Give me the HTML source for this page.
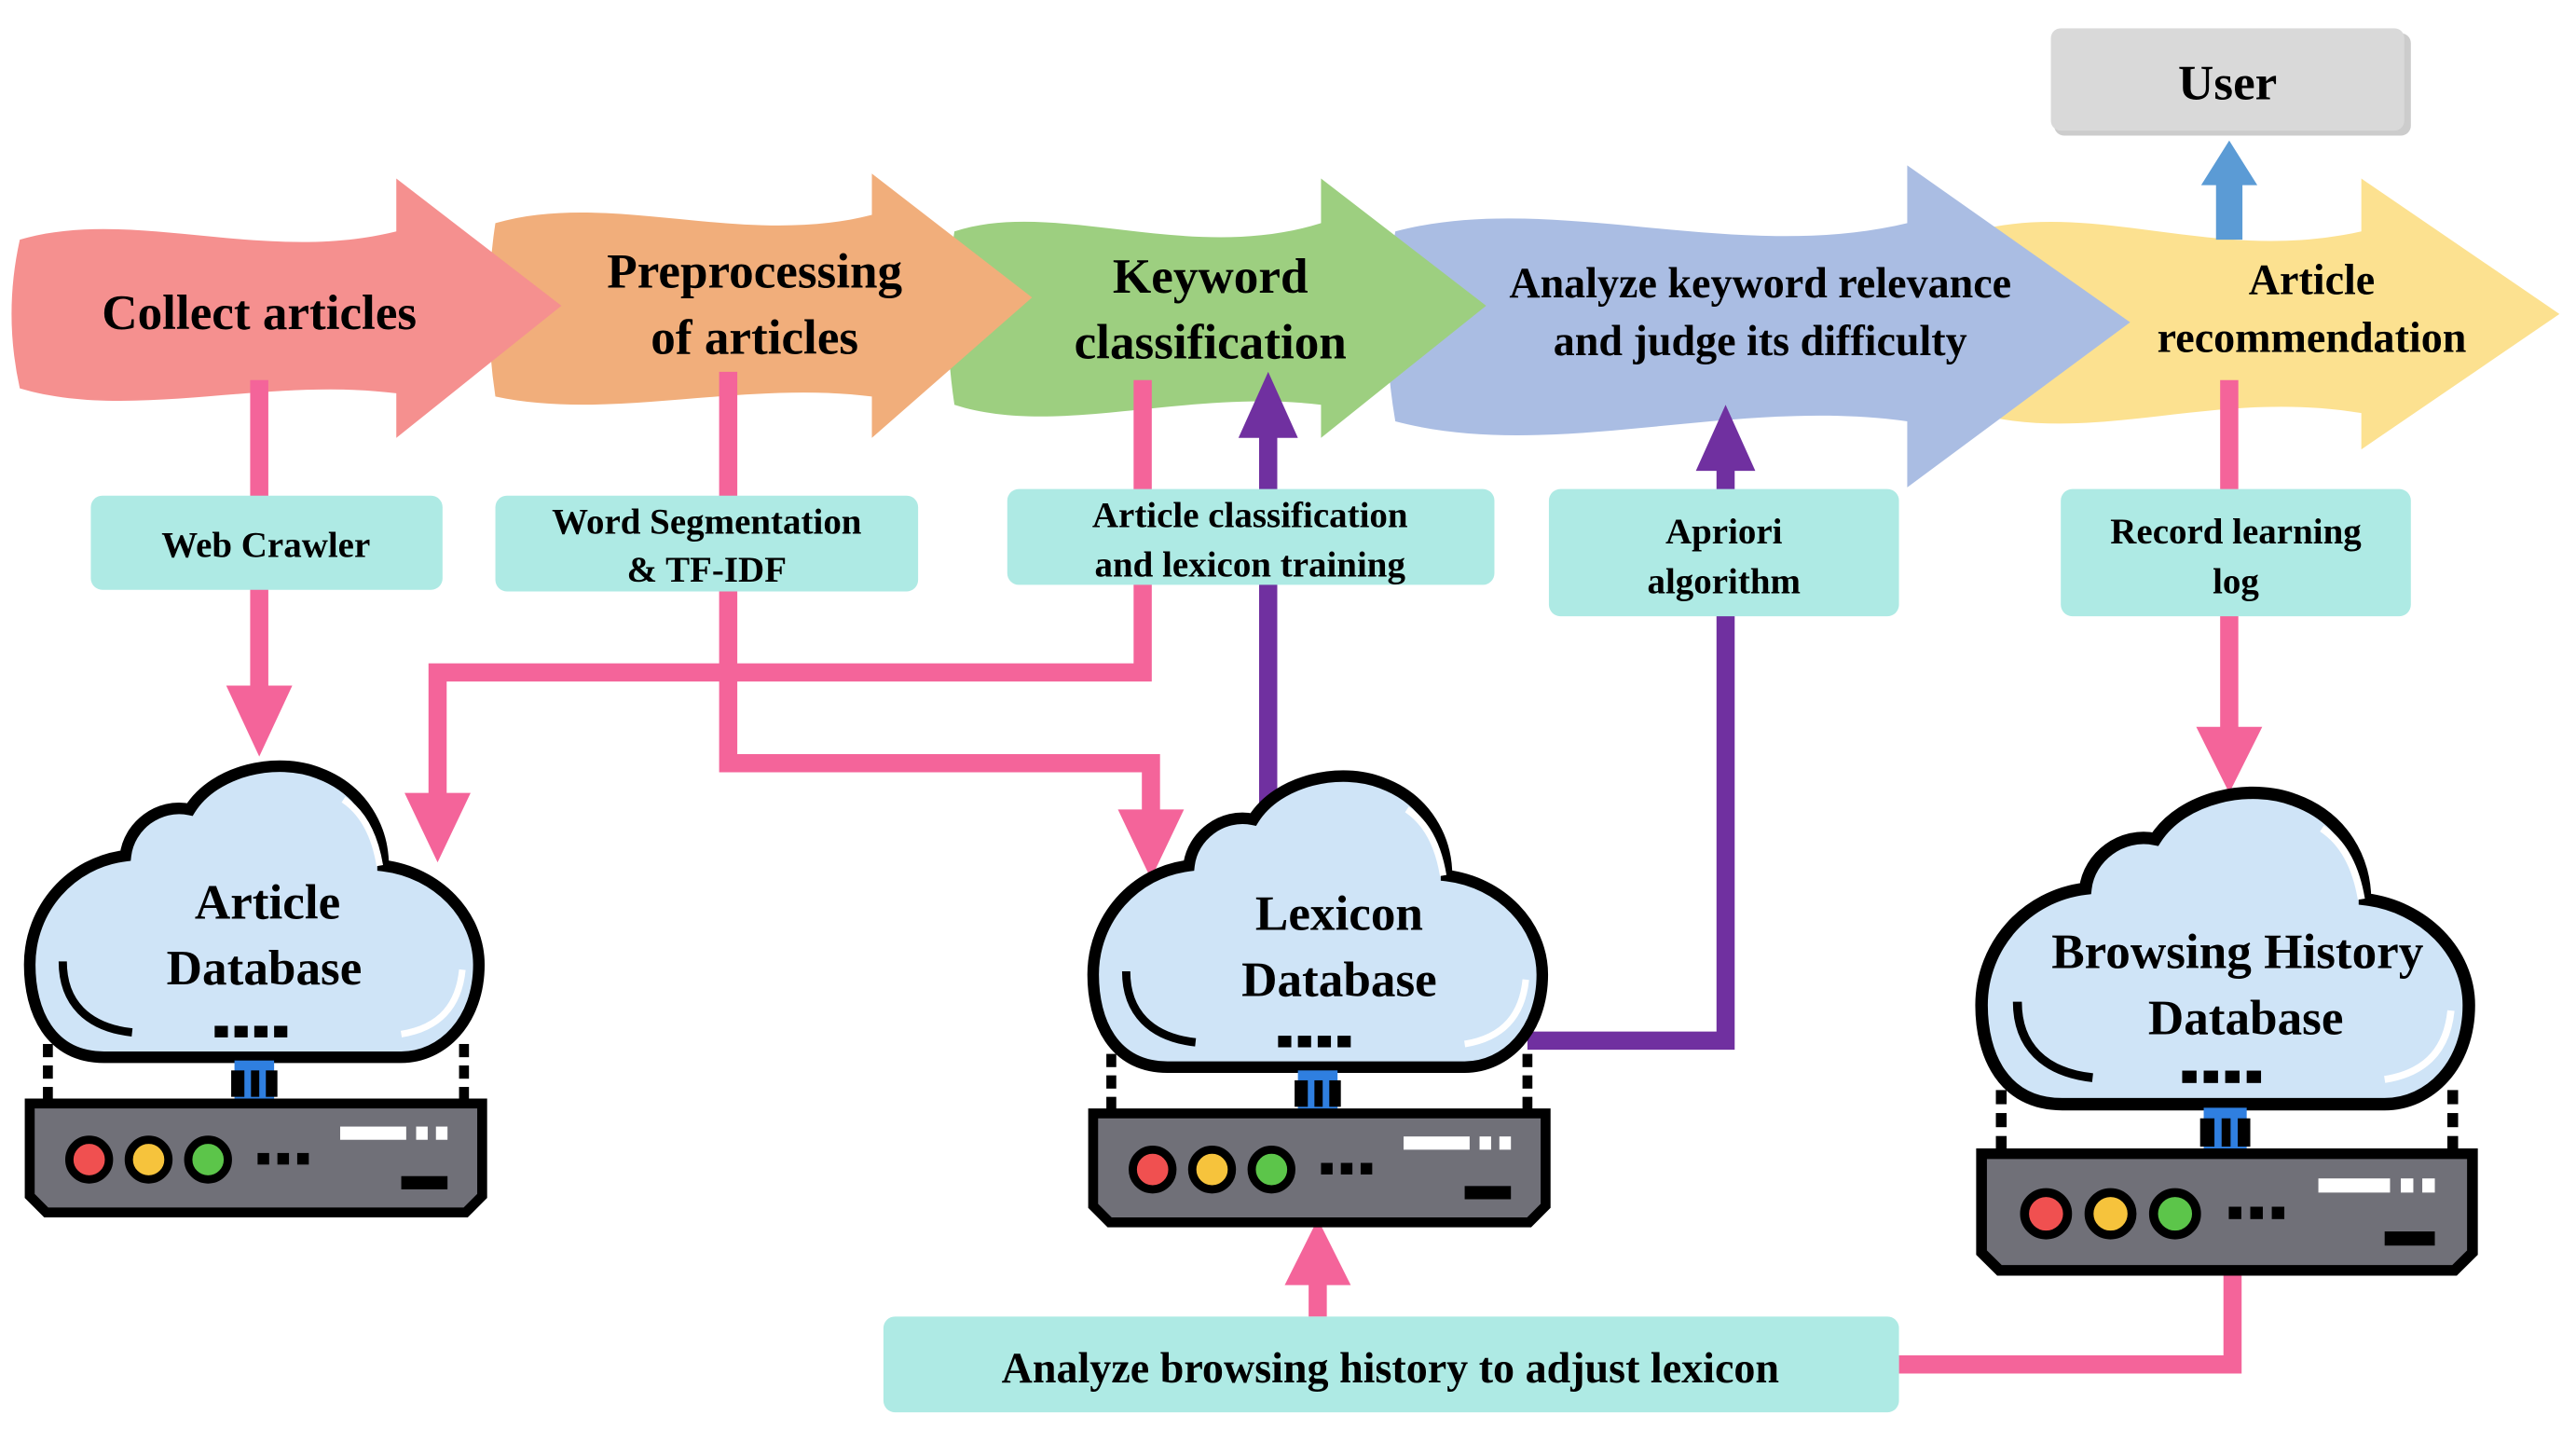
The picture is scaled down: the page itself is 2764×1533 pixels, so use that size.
<!DOCTYPE html>
<html><head><meta charset="utf-8"><style>
html,body{margin:0;padding:0;background:#fff;}
svg{display:block;}
text{font-family:"Liberation Serif",serif;font-weight:bold;fill:#000;text-anchor:middle;}
</style></head><body>
<svg width="2764" height="1533" viewBox="0 0 1560 865" xmlns="http://www.w3.org/2000/svg">
<defs>
<g id="db">
 <path d="M45,178 C12,178 0,150 0,122 C0,88 25,60 58,56 C60,38 78,24 97,28 C112,4 150,-4 175,6 C202,16 214,40 214,62 C247,66 272,92 272,122 C272,156 250,178 225,178 Z" fill="#cfe4f7" stroke="#000" stroke-width="7"/>
 <path d="M20,120 C20,145 35,160 62,163" fill="none" stroke="#000" stroke-width="5"/>
 <path d="M190,22 C205,32 210,50 212,62" fill="none" stroke="#fff" stroke-width="4"/>
 <path d="M262,125 C260,145 250,160 225,164" fill="none" stroke="#fff" stroke-width="4"/>
 <g fill="#000"><rect x="112" y="159" width="8" height="7"/><rect x="124" y="159" width="8" height="7"/><rect x="136" y="159" width="8" height="7"/><rect x="148" y="159" width="8" height="7"/>
 <rect x="8" y="170" width="6" height="8"/><rect x="8" y="183" width="6" height="8"/><rect x="8" y="196" width="6" height="8"/>
 <rect x="260" y="170" width="6" height="8"/><rect x="260" y="183" width="6" height="8"/><rect x="260" y="196" width="6" height="8"/></g>
 <rect x="124" y="180" width="24" height="26" fill="#2f7fe0"/>
 <rect x="122" y="186" width="8" height="16" fill="#000"/><rect x="134" y="186" width="5" height="16" fill="#000"/><rect x="143" y="186" width="7" height="16" fill="#000"/>
 <path d="M0,206 H274 V262 L264,272 H10 L0,262 Z" fill="#707078" stroke="#000" stroke-width="6"/>
 <circle cx="36" cy="240" r="12" fill="#f05050" stroke="#000" stroke-width="5"/>
 <circle cx="72" cy="240" r="12" fill="#f6c33c" stroke="#000" stroke-width="5"/>
 <circle cx="108" cy="240" r="12" fill="#5cc54a" stroke="#000" stroke-width="5"/>
 <g fill="#000"><rect x="138" y="236" width="7" height="7"/><rect x="150" y="236" width="7" height="7"/><rect x="162" y="236" width="7" height="7"/><rect x="225" y="250" width="28" height="8"/></g>
 <g fill="#fff"><rect x="188" y="220" width="40" height="8"/><rect x="234" y="220" width="7" height="8"/><rect x="246" y="220" width="7" height="8"/></g>
</g>
</defs>

<!-- big arrows, back to front -->
<path d="M1195,140 C1270,120 1340,160 1430,140 L1430,108 L1550,190 L1430,272 L1430,250 C1340,235 1270,270 1195,250 Q1185,195 1195,140 Z" fill="#fce190"/>
<path d="M845,140 C940,115 1050,160 1155,135 L1155,100 L1290,195 L1155,295 L1155,255 C1050,240 940,280 845,255 Q835,197 845,140 Z" fill="#aabde3"/>
<path d="M578,140 C640,120 720,160 800,135 L800,108 L900,185 L800,265 L800,245 C720,235 640,265 578,245 Q570,192 578,140 Z" fill="#9dcf80"/>
<path d="M300,135 C370,115 450,150 528,130 L528,105 L625,180 L528,265 L528,240 C450,230 370,255 300,240 Q292,187 300,135 Z" fill="#f1ae7b"/>
<path d="M12,145 C80,125 160,160 240,140 L240,108 L340,185 L240,265 L240,238 C160,228 80,255 12,235 Q2,190 12,145 Z" fill="#f5908f"/>

<g font-size="30">
<text x="157" y="199">Collect articles</text>
<text x="457" y="174">Preprocessing</text>
<text x="457" y="214">of articles</text>
<text x="733" y="177">Keyword</text>
<text x="733" y="217">classification</text>
</g>
<g font-size="26">
<text x="1066" y="180">Analyze keyword relevance</text>
<text x="1066" y="215">and judge its difficulty</text>
<text x="1400" y="178">Article</text>
<text x="1400" y="213">recommendation</text>
</g>

<!-- User -->
<rect x="1244" y="20" width="216" height="62" rx="6" fill="#999" opacity="0.5"/>
<rect x="1242" y="17" width="214" height="62" rx="6" fill="#d9d9d9"/>
<text x="1349" y="60" font-size="30">User</text>
<path d="M1342,145 V112 H1333 L1350,85 L1367,112 H1358 V145 Z" fill="#5b9bd5"/>

<!-- pink connectors -->
<g stroke="#f4649a" stroke-width="11" fill="none">
<path d="M157,230 V420"/>
<path d="M441,225 V462 H697 V495"/>
<path d="M692,230 V407 H265 V485"/>
<path d="M1350,230 V445"/>
<path d="M1150,826 H1352 V770"/>
<path d="M798,797 V772"/>
</g>
<g fill="#f4649a">
<path d="M137,415 H177 L157,458 Z"/>
<path d="M677,490 H717 L697,532 Z"/>
<path d="M245,480 H285 L265,522 Z"/>
<path d="M1330,440 H1370 L1350,480 Z"/>
<path d="M778,778 H818 L798,738 Z"/>
</g>
<!-- purple -->
<g stroke="#7030a0" stroke-width="11" fill="none">
<path d="M768,490 V260"/>
<path d="M925,630 H1045 V280"/>
</g>
<g fill="#7030a0">
<path d="M750,265 H786 L768,225 Z"/>
<path d="M1027,285 H1063 L1045,245 Z"/>
</g>

<!-- teal boxes -->
<g fill="#aeeae4">
<rect x="55" y="300" width="213" height="57" rx="7"/>
<rect x="300" y="300" width="256" height="58" rx="7"/>
<rect x="610" y="296" width="295" height="58" rx="7"/>
<rect x="938" y="296" width="212" height="77" rx="7"/>
<rect x="1248" y="296" width="212" height="77" rx="7"/>
<rect x="535" y="797" width="615" height="58" rx="7"/>
</g>
<g font-size="22">
<text x="161" y="337">Web Crawler</text>
<text x="428" y="323">Word Segmentation</text>
<text x="428" y="352">&amp; TF-IDF</text>
<text x="757" y="319">Article classification</text>
<text x="757" y="349">and lexicon training</text>
<text x="1044" y="329">Apriori</text>
<text x="1044" y="359">algorithm</text>
<text x="1354" y="329">Record learning</text>
<text x="1354" y="359">log</text>
</g>
<text x="842" y="837" font-size="26">Analyze browsing history to adjust lexicon</text>

<!-- databases -->
<use href="#db" transform="translate(18,462)"/>
<use href="#db" transform="translate(662,468)"/>
<use href="#db" transform="translate(1200,478) scale(1.085,1.07)"/>
<g font-size="30">
<text x="162" y="556">Article</text>
<text x="160" y="596">Database</text>
<text x="811" y="563">Lexicon</text>
<text x="811" y="603">Database</text>
<text x="1355" y="586">Browsing History</text>
<text x="1360" y="626">Database</text>
</g>
</svg>
</body></html>
